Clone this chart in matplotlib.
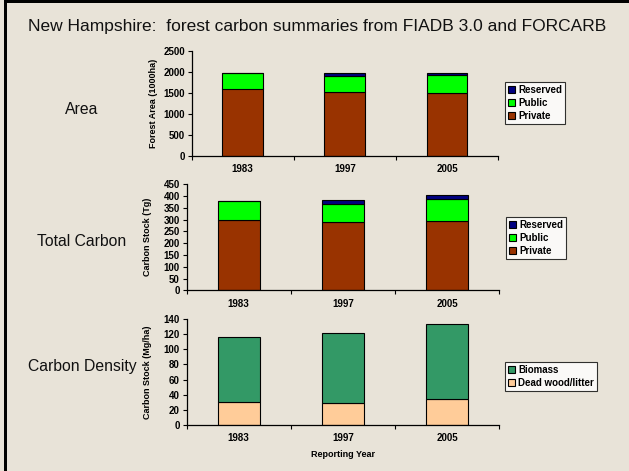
import matplotlib
matplotlib.use("Agg")
import matplotlib.pyplot as plt
from matplotlib.patches import Rectangle
import numpy as np

plt.rcParams['font.family'] = ['Liberation Sans', 'DejaVu Sans']

years = ["1983", "1997", "2005"]

area_private = [1600, 1515, 1490]
area_public = [375, 380, 430]
area_reserved = [0, 70, 60]

carbon_private = [300, 291, 293]
carbon_public = [78, 77, 96]
carbon_reserved = [0, 15, 14]

density_dead = [30, 29, 34]
density_biomass = [86, 93, 100]

row_titles = ["Area", "Total Carbon", "Carbon Density"]
title = "New Hampshire:  forest carbon summaries from FIADB 3.0 and FORCARB"

C_PRIV = "#993300"
C_PUB = "#00FF00"
C_RES = "#000080"
C_BIO = "#339966"
C_DEAD = "#FFCC99"
BG = "#E8E3D8"

W, H = 629, 471
fig = plt.figure(figsize=(W / 100, H / 100), dpi=100, facecolor=BG)

# border (left & top)
fig.add_artist(Rectangle((4 / W, 0), 3 / W, 1, transform=fig.transFigure, color="black", lw=0))
fig.add_artist(Rectangle((4 / W, 1 - 3 / H), 1, 3 / H, transform=fig.transFigure, color="black", lw=0))

fig.text(28 / W, 1 - 27 / H, title, fontsize=12.5, va="center", ha="left", color="#111111")


def make_ax(left, right, y0, ytop):
    return fig.add_axes([left / W, (H - y0) / H, (right - left) / W, (y0 - ytop) / H])


def style(ax, ymax, step, ylabel, xlabel=None):
    ax.set_facecolor("none")
    ax.set_xlim(-0.5, 2.5)
    ax.set_ylim(0, ymax)
    ax.set_yticks(np.arange(0, ymax + 1, step))
    ax.set_xticks(range(3))
    ax.set_xticklabels(years)
    ax.set_xticks([-0.5, 0.5, 1.5, 2.5], minor=True)
    ax.tick_params(axis="x", which="major", length=0, pad=6, labelsize=7)
    ax.tick_params(axis="x", which="minor", length=3, direction="out", width=0.8)
    ax.tick_params(axis="y", length=3, direction="out", width=0.8, labelsize=7, pad=2)
    for lab in ax.get_xticklabels() + ax.get_yticklabels():
        lab.set_fontweight("bold")
    for s in ["top", "right"]:
        ax.spines[s].set_visible(False)
    for s in ["left", "bottom"]:
        ax.spines[s].set_linewidth(0.9)
    ax.set_ylabel(ylabel, fontsize=6.5, fontweight="bold")
    ax.yaxis.set_label_coords(-0.11, 0.5)
    if xlabel:
        ax.set_xlabel(xlabel, fontsize=6.5, fontweight="bold", labelpad=5)


x = np.arange(3)
bw = 0.4
ekw = dict(edgecolor="black", linewidth=0.8, width=bw)

# Area
ax1 = make_ax(191.7, 498, 155.7, 50.7)
b1 = ax1.bar(x, area_private, color=C_PRIV, label="Private", **ekw)
b2 = ax1.bar(x, area_public, bottom=area_private, color=C_PUB, label="Public", **ekw)
b3 = ax1.bar(x, area_reserved, bottom=np.add(area_private, area_public), color=C_RES, label="Reserved", **ekw)
style(ax1, 2500, 500, "Forest Area (1000ha)")

# Carbon
ax2 = make_ax(186.7, 499, 290.3, 184.3)
c1 = ax2.bar(x, carbon_private, color=C_PRIV, label="Private", **ekw)
c2 = ax2.bar(x, carbon_public, bottom=carbon_private, color=C_PUB, label="Public", **ekw)
c3 = ax2.bar(x, carbon_reserved, bottom=np.add(carbon_private, carbon_public), color=C_RES, label="Reserved", **ekw)
style(ax2, 450, 50, "Carbon Stock (Tg)")

# Density
ax3 = make_ax(186.7, 499, 425, 319)
d1 = ax3.bar(x, density_dead, color=C_DEAD, label="Dead wood/litter", **ekw)
d2 = ax3.bar(x, density_biomass, bottom=density_dead, color=C_BIO, label="Biomass", **ekw)
style(ax3, 140, 20, "Carbon Stock (Mg/ha)", "Reporting Year")

legkw = dict(prop={"weight": "bold", "size": 7}, frameon=True, fancybox=False,
             edgecolor="black", handlelength=0.75, handleheight=0.75, handletextpad=0.3,
             borderpad=0.3, labelspacing=0.3, borderaxespad=0)


def legend(handles, labels, xl, yt):
    leg = fig.legend(handles, labels, loc="upper left", bbox_to_anchor=(xl / W, 1 - yt / H), **legkw)
    leg.get_frame().set_linewidth(0.8)
    leg.get_frame().set_facecolor("white")
    return leg


legend([b3, b2, b1], ["Reserved", "Public", "Private"], 505, 82)
legend([c3, c2, c1], ["Reserved", "Public", "Private"], 506, 217)
legend([d2, d1], ["Biomass", "Dead wood/litter"], 505, 362)

for t, yy in zip(row_titles, [110, 242, 367]):
    fig.text(82 / W, 1 - yy / H, t, fontsize=11.3, ha="center", va="center", color="#111111")

fig.savefig("out.png", dpi=100, facecolor=BG)
